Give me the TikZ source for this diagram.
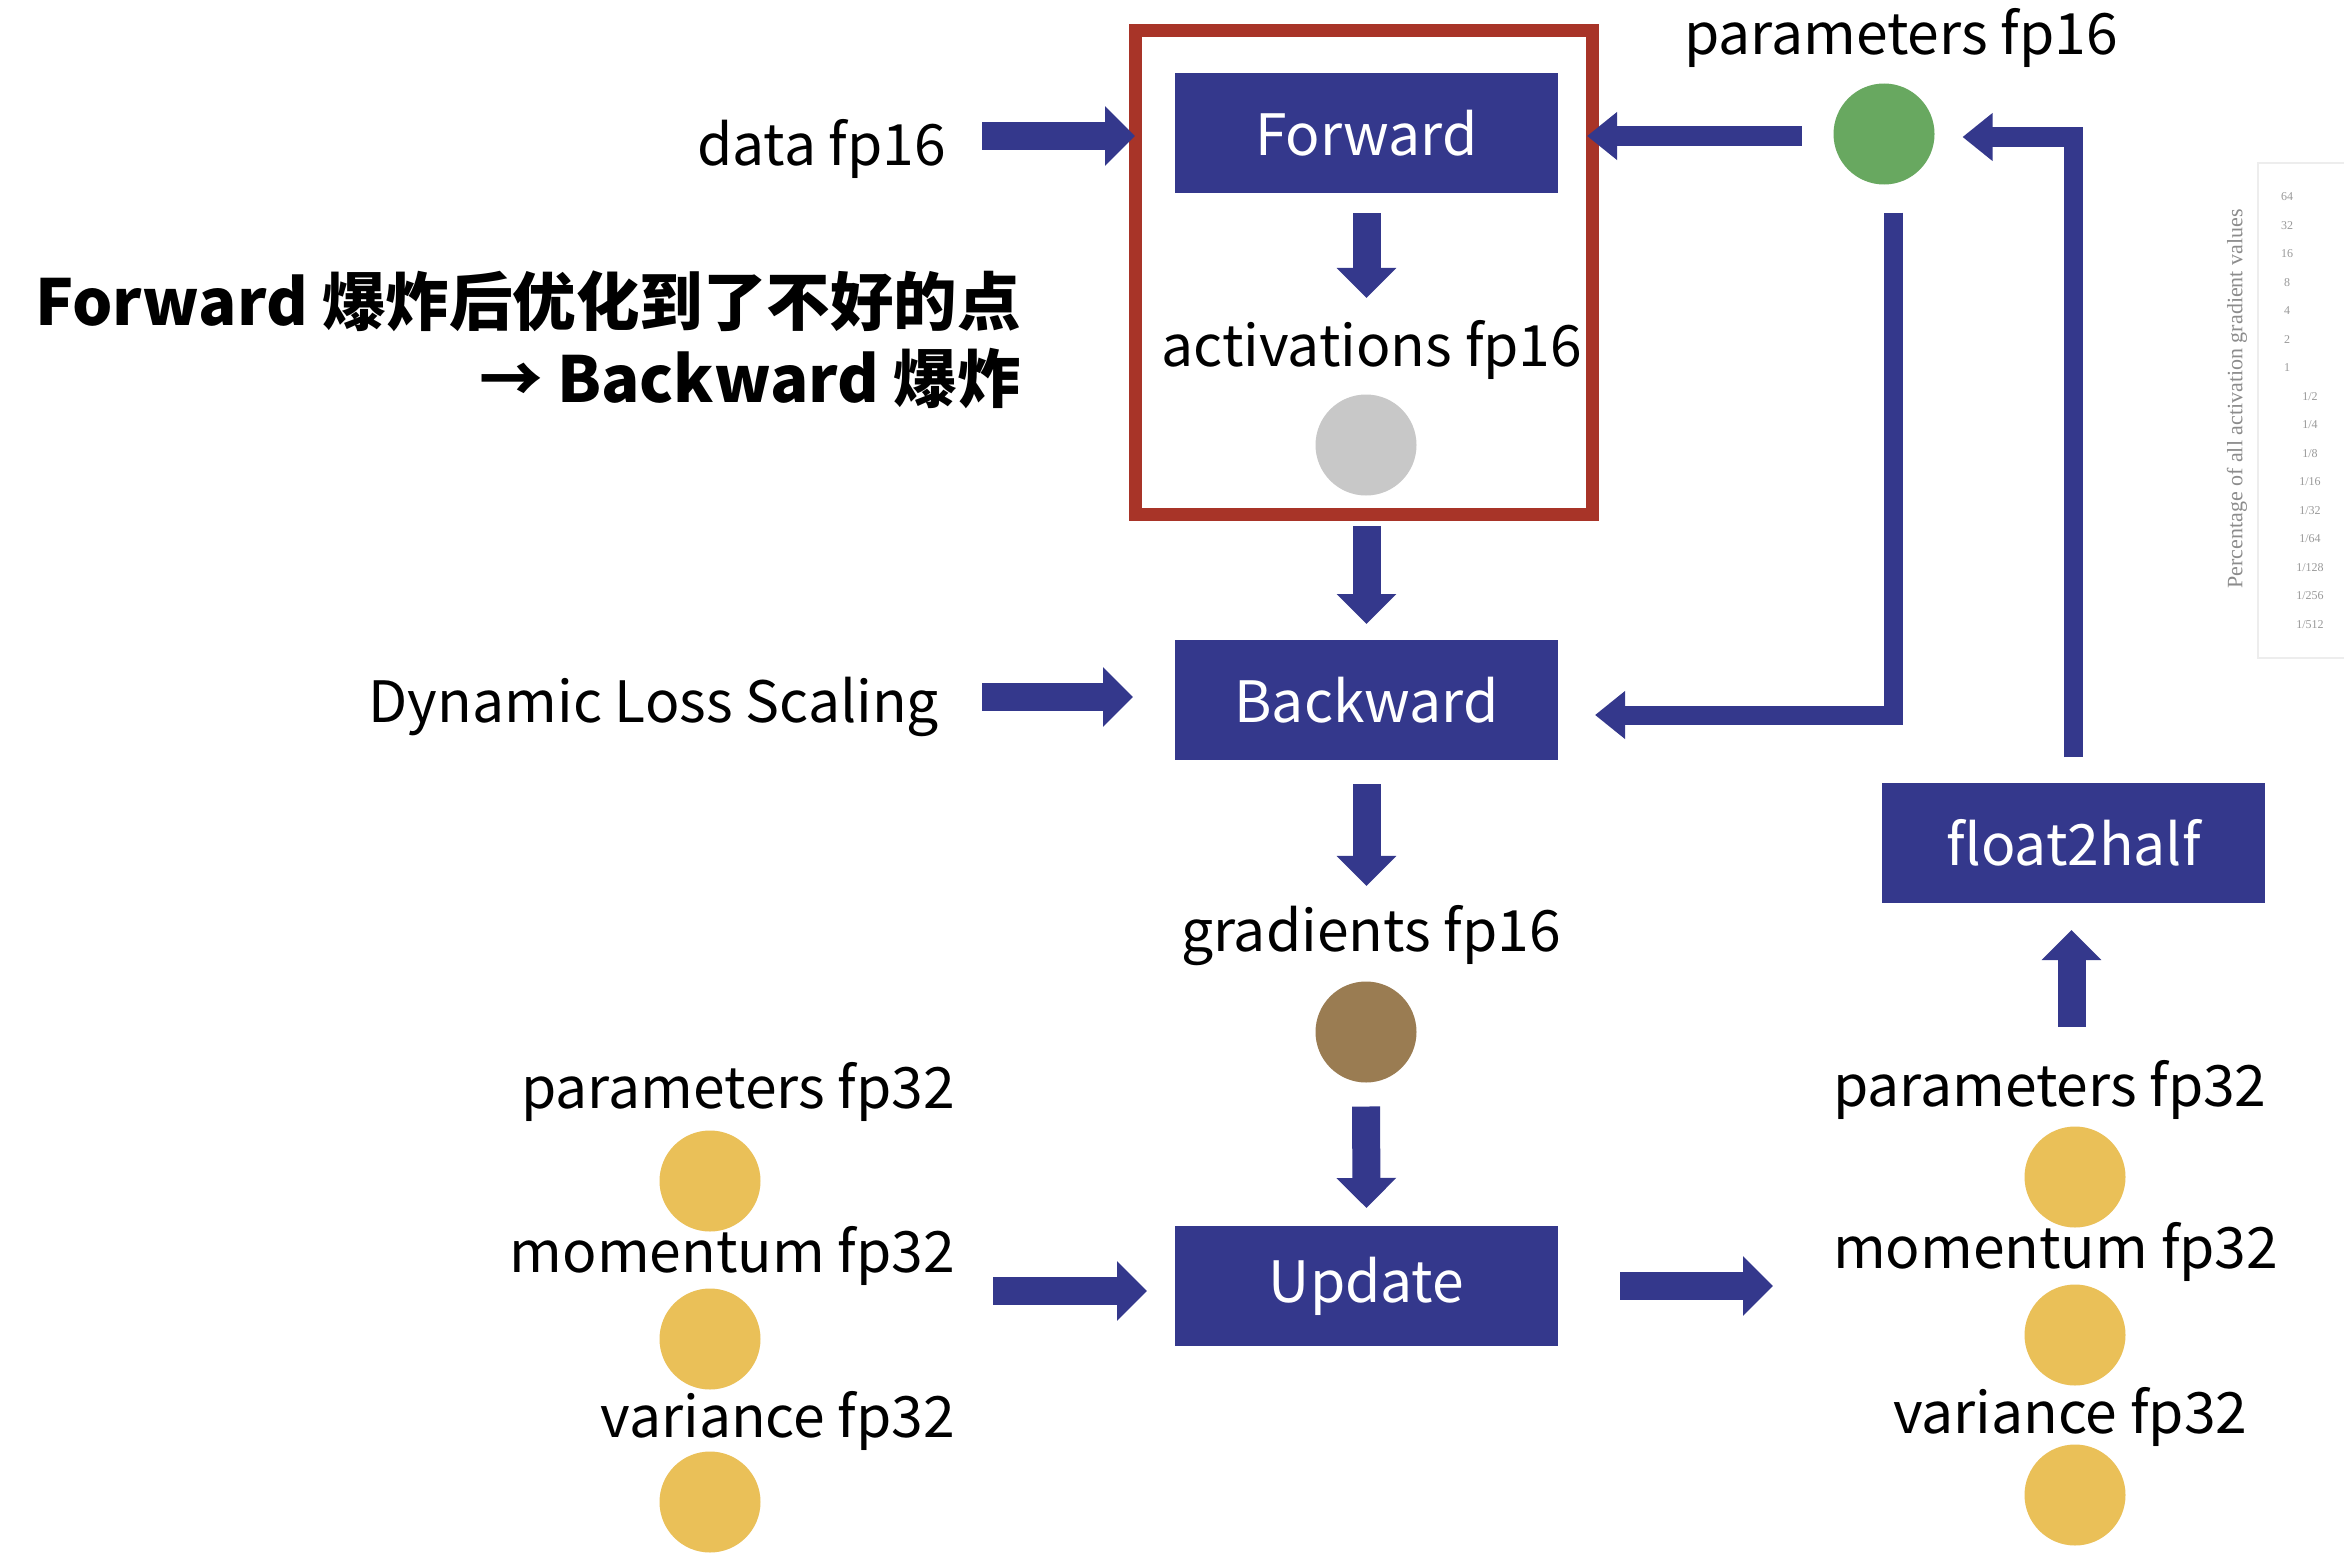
\documentclass[tikz,border=0pt]{standalone}
\usepackage{fontspec}
\setmainfont{Noto Sans CJK SC}
\newfontfamily\chartfont{Liberation Serif}
\usetikzlibrary{arrows.meta,calc}
\definecolor{navy}{RGB}{52,56,140}
\definecolor{framered}{RGB}{168,52,40}
\definecolor{dotgreen}{RGB}{104,168,96}
\definecolor{dotgray}{RGB}{200,200,200}
\definecolor{dotbrown}{RGB}{154,124,82}
\definecolor{dotyellow}{RGB}{234,192,88}
\newcommand\lblfont{\fontsize{57}{70}\selectfont}
\newcommand\notefont{\fontsize{63.5}{78}\selectfont\bfseries}
\begin{document}
\begin{tikzpicture}[x=1pt,y=-1pt,
  blk/.style={fill=navy,text=white,minimum width=383pt,minimum height=120pt,inner sep=0pt,outer sep=0pt,font=\lblfont},
  dot/.style={circle,minimum size=101pt,inner sep=0pt,outer sep=0pt},
  lbl/.style={inner sep=0pt,outer sep=0pt,font=\lblfont,text=black},
  bigarrow/.style={draw=navy,line width=28pt,-{Triangle[length=30pt,width=58pt]}},
  thinarrow/.style={draw=navy,line width=19pt,-{Triangle[length=30pt,width=46pt]}},
  tick/.style={inner sep=0pt,font=\chartfont\fontsize{12}{13}\selectfont,text=black!40},
]
\fill[white] (0,0) rectangle (2344,1560);
\useasboundingbox (0,0) rectangle (2344,1560);

% faint chart remnant on the right edge
\draw[black!7,line width=2pt] (2344,163) -- (2258,163) -- (2258,658) -- (2344,658);
\node[tick,rotate=90,font=\chartfont\fontsize{22}{24}\selectfont,text=black!45] (axis) at (2237,399) {Percentage of all activation gradient values};
\foreach \t [count=\i from 0] in {64,32,16,8,4,2,1}
  \node[tick] (ti\i) at (2287,197+28.5*\i) {\t};
\foreach \t [count=\i from 7] in {1/2,1/4,1/8,1/16,1/32,1/64,1/128,1/256,1/512}
  \node[tick] (tf\i) at (2310,197+28.5*\i) {\t};

% red frame
\node[draw=framered,line width=13pt,minimum width=457pt,minimum height=483pt,inner sep=0pt,outer sep=0pt] (frame) at (1363.5,272.5) {};

% blocks
\node[blk] (fwd) at (1366.5,133) {Forward};
\node[blk] (bwd) at (1366.5,700) {Backward};
\node[blk] (upd) at (1366.5,1286) {Update};
\node[blk] (f2h) at (2073.5,843) {float2half};

% dots
\node[dot,fill=dotgreen] (pg) at (1884,134) {};
\node[dot,fill=dotgray] (ad) at (1366,445) {};
\node[dot,fill=dotbrown] (gd) at (1366,1032) {};
\node[dot,fill=dotyellow] (yl1) at (710,1181) {};
\node[dot,fill=dotyellow] (yl2) at (710,1339) {};
\node[dot,fill=dotyellow] (yl3) at (710,1502) {};
\node[dot,fill=dotyellow] (yr1) at (2075,1177) {};
\node[dot,fill=dotyellow] (yr2) at (2075,1335) {};
\node[dot,fill=dotyellow] (yr3) at (2075,1495) {};

% labels
\node[lbl,anchor=base east] (data) at (946,165) {data fp16};
\node[lbl,anchor=base] (pgl) at (1901,55) {parameters fp16};
\node[lbl,anchor=base] (act) at (1372,366) {activations fp16};
\node[lbl,anchor=base east] (dls) at (939,722) {Dynamic Loss Scaling};
\node[lbl,anchor=base] (grad) at (1371,951) {gradients fp16};
\node[lbl,anchor=base east] (pL) at (955,1108) {parameters fp32};
\node[lbl,anchor=base east] (mL) at (955,1272) {momentum fp32};
\node[lbl,anchor=base east] (vL) at (955,1437) {variance fp32};
\node[lbl,anchor=base west] (pR) at (1833,1106) {parameters fp32};
\node[lbl,anchor=base west] (mR) at (1833,1268) {momentum fp32};
\node[lbl,anchor=base west] (vR) at (1893,1433) {variance fp32};
\node[inner sep=0pt,font=\notefont,anchor=base east] (note1) at (1021,325) {Forward 爆炸后优化到了不好的点};
\node[inner sep=0pt,font=\notefont,anchor=base east] (note2) at (1021,402) {→ Backward 爆炸};

% connectors
\draw[bigarrow,shorten <=36pt] ([yshift=-3pt]data.east |- fwd.west) -- ([yshift=-3pt]frame.west |- fwd.west);
\draw[thinarrow,shorten <=32pt,shorten >=-5pt] ([yshift=-2pt]pg.west) -- ([yshift=-2pt]frame.east |- pg.west);
\draw[bigarrow,shorten <=20pt,shorten >=22pt] (fwd.south) -- (fwd.south |- act.north);
\draw[bigarrow,shorten <=12pt,shorten >=16pt] (bwd.north |- frame.south) -- (bwd.north);
\draw[bigarrow,shorten <=43pt,shorten >=42pt] ([yshift=3pt]dls.east |- bwd.west) -- ([yshift=3pt]bwd.west);
\draw[thinarrow,shorten <=28pt,shorten >=37pt] ([xshift=9pt]pg.south) |- ([yshift=-15pt]bwd.east);
\draw[bigarrow,shorten <=24pt,shorten >=19pt] (bwd.south) -- (bwd.south |- grad.north);
\draw[bigarrow,shorten <=24pt,shorten >=18pt] (gd.south) -- (upd.north);
\draw[bigarrow,shorten <=38pt,shorten >=28pt] ([yshift=-5pt]mL.east |- upd.west) -- ([yshift=-5pt]upd.west);
\draw[bigarrow,shorten <=62pt,shorten >=60pt] (upd.east) -- (mR.west |- upd.east);
\draw[bigarrow,shorten <=33pt,shorten >=27pt] ([xshift=-2pt]f2h.south |- pR.north) -- ([xshift=-2pt]f2h.south);
\draw[thinarrow,shorten <=26pt,shorten >=28pt] (f2h.north) |- ([yshift=-3pt]pg.east);
\end{tikzpicture}
\end{document}
